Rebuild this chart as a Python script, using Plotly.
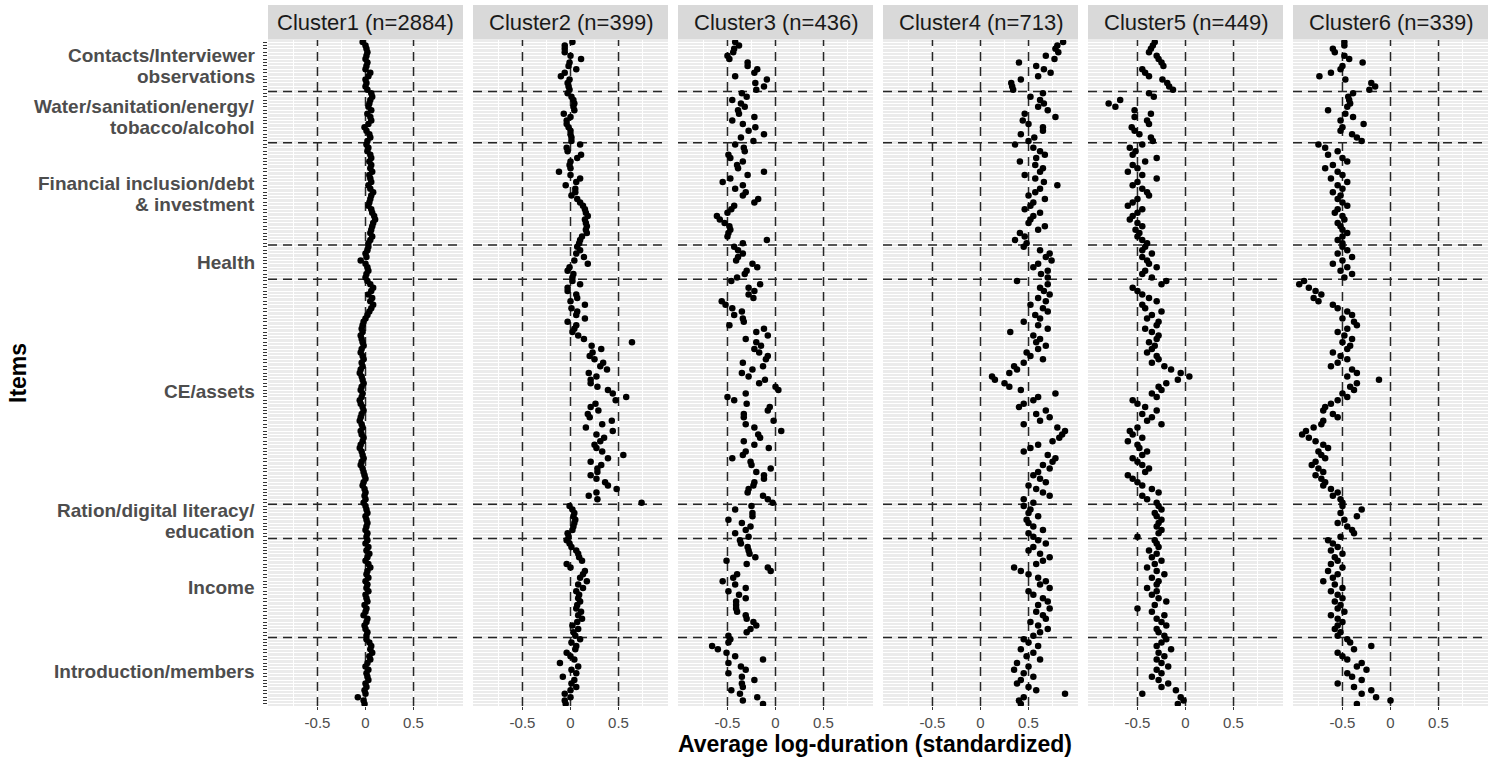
import plotly.graph_objects as go

W, H = 1489, 761

# ---------------- data ----------------
group_labels = [
    ["Contacts/Interviewer", "observations"],
    ["Water/sanitation/energy/", "tobacco/alcohol"],
    ["Financial inclusion/debt", "& investment"],
    ["Health"],
    ["CE/assets"],
    ["Ration/digital literacy/", "education"],
    ["Income"],
    ["Introduction/members"],
]
group_sizes = [15, 15, 30, 10, 66, 10, 29, 20]  # top to bottom

cluster_titles = ["Cluster1 (n=2884)", "Cluster2 (n=399)", "Cluster3 (n=436)",
                  "Cluster4 (n=713)", "Cluster5 (n=449)", "Cluster6 (n=339)"]

x_tick_vals = [-0.5, 0, 0.5]
x_tick_text = ["-0.5", "0", "0.5"]

# values per group, items listed top to bottom
cluster1 = [
    [-0.03, 0.0, 0.01, 0.02, 0.01, 0.0, 0.02, 0.01, 0.0, 0.05, 0.03, 0.0, 0.01, 0.0, 0.02],
    [0.06, 0.07, 0.05, 0.04, 0.03, 0.06, 0.02, 0.05, 0.06, 0.03, -0.01, 0.01, 0.04, 0.05, 0.02],
    [0.01, 0.03, 0.02, 0.05, 0.06, 0.04, 0.06, 0.05, 0.07, 0.04, 0.05, 0.06, 0.03, 0.05, 0.08,
     0.06, 0.05, 0.04, 0.03, 0.06, 0.07, 0.09, 0.1, 0.08, 0.07, 0.06, 0.05, 0.07, 0.05, 0.03],
    [0.03, 0.02, 0.0, 0.01, -0.05, 0.0, 0.02, 0.03, 0.01, 0.0],
    [0.02, 0.05, 0.08, 0.06, 0.03, 0.07, 0.05, 0.08, 0.06, 0.04, 0.02, 0.0,
     -0.02, -0.03, -0.04, -0.03, -0.05, -0.04, -0.03, -0.02, -0.04, -0.05,
     -0.03, -0.02, -0.04, -0.03, -0.05, -0.06, -0.04, -0.03, -0.02, -0.04,
     -0.05, -0.03, -0.04, -0.06, -0.05, -0.03, -0.02, -0.04, -0.05, -0.06,
     -0.04, -0.03, -0.05, -0.04, -0.02, -0.03, -0.05, -0.06, -0.04, -0.03,
     -0.02, -0.04, -0.05, -0.03, -0.02, -0.01, 0.0, -0.02, -0.03, -0.01,
     0.0, -0.01, 0.0, -0.02],
    [0.0, 0.01, 0.02, 0.0, 0.01, 0.02, 0.01, 0.0, 0.02, 0.01],
    [0.02, 0.0, 0.03, 0.01, 0.04, 0.02, 0.0, 0.03, 0.05, 0.02, 0.01, 0.03, 0.0, 0.02, 0.01,
     0.03, 0.0, 0.01, 0.02, -0.01, 0.01, 0.0, -0.02, 0.02, 0.01, -0.01, 0.0, 0.02, 0.01],
    [0.01, 0.04, 0.06, 0.05, 0.07, 0.04, 0.05, 0.02, 0.0, 0.03, 0.01, 0.02, 0.03, 0.0, 0.01,
     -0.01, 0.0, -0.08, -0.02, -0.01],
]
cluster2 = [
    [0.02, -0.06, -0.06, -0.06, 0.0, 0.11, -0.01, -0.02, 0.06, -0.06, -0.1, -0.01, -0.03, -0.02, -0.01],
    [-0.03, 0.01, 0.03, 0.04, 0.03, 0.04, -0.07, 0.0, -0.04, -0.04, -0.02, 0.0, 0.0, 0.01, 0.01],
    [0.1, -0.04, -0.03, 0.11, 0.07, 0.0, -0.01, 0.0, -0.12, 0.0, 0.1, 0.06, -0.05, 0.05, 0.05,
     0.01, 0.07, 0.1, 0.13, 0.15, 0.16, 0.18, 0.15, 0.16, 0.17, 0.16, 0.17, 0.12, 0.1, 0.09],
    [0.07, 0.1, 0.06, 0.14, 0.04, 0.18, -0.01, -0.03, 0.03, 0.02],
    [0.02, 0.10, -0.03, -0.03, 0.06, 0.07, 0.0, 0.15, 0.01, 0.07,
     0.06, 0.15, -0.03, 0.06, 0.04, 0.02, 0.08, 0.14, 0.64, 0.22,
     0.32, 0.23, 0.2, 0.25, 0.34, 0.31, 0.38, 0.19, 0.27, 0.21,
     0.21, 0.28, 0.39, 0.44, 0.58, 0.47, 0.26, 0.21, 0.29, 0.18,
     0.2, 0.43, 0.33, 0.16, 0.44, 0.27, 0.35, 0.31, 0.25, 0.27,
     0.33, 0.55, 0.39, 0.21, 0.32, 0.28, 0.28, 0.21, 0.27, 0.36,
     0.39, 0.48, 0.27, 0.19, 0.28, 0.74],
    [-0.01, 0.02, 0.04, 0.03, 0.05, 0.04, 0.03, 0.02, -0.03, -0.02],
    [-0.04, -0.01, 0.01, 0.06, 0.08, 0.09, 0.12, -0.04, 0.0, 0.15, 0.13, 0.1, 0.17, 0.08, 0.13,
     0.06, 0.09, 0.08, 0.1, 0.07, 0.06, 0.11, 0.08, 0.12, 0.07, 0.02, 0.08, 0.03, 0.05],
    [0.1, 0.01, 0.06, 0.05, -0.04, 0.0, 0.04, -0.11, 0.08, 0.01, 0.06, -0.08, 0.04, 0.01, 0.06,
     0.0, -0.06, 0.0, -0.06, -0.05],
]
cluster3 = [
    [-0.42, -0.38, -0.43, -0.44, -0.5, -0.48, -0.29, -0.29, -0.19, -0.22, -0.42, -0.09, -0.21, -0.12, -0.2],
    [-0.35, -0.3, -0.45, -0.36, -0.32, -0.39, -0.38, -0.22, -0.45, -0.34, -0.21, -0.28, -0.12, -0.36, -0.23],
    [-0.42, -0.33, -0.32, -0.49, -0.47, -0.34, -0.4, -0.39, -0.12, -0.29, -0.47, -0.55, -0.34, -0.42, -0.31,
     -0.34, -0.18, -0.22, -0.43, -0.46, -0.5, -0.61, -0.58, -0.53, -0.48, -0.47, -0.49, -0.5, -0.09, -0.34],
    [-0.43, -0.39, -0.34, -0.39, -0.41, -0.24, -0.19, -0.3, -0.32, -0.4],
    [-0.46, -0.16, -0.28, -0.22, -0.28, -0.23, -0.56, -0.52, -0.45, -0.35,
     -0.43, -0.34, -0.33, -0.48, -0.12, -0.2, -0.08, -0.31, -0.2, -0.15,
     -0.22, -0.17, -0.08, -0.1, -0.34, -0.13, -0.24, -0.35, -0.28, -0.11,
     -0.17, 0.0, 0.03, -0.31, -0.5, -0.43, -0.3, -0.06, -0.08, -0.33,
     -0.33, -0.02, -0.31, -0.22, 0.06, -0.18, -0.16, -0.33, -0.22, -0.07,
     -0.31, -0.34, -0.45, -0.26, -0.25, -0.05, -0.2, -0.12, -0.12, -0.22,
     -0.23, -0.28, -0.29, -0.13, -0.08, -0.03],
    [-0.25, -0.42, -0.24, -0.24, -0.49, -0.35, -0.26, -0.31, -0.42, -0.28],
    [-0.37, -0.36, -0.29, -0.28, -0.27, -0.21, -0.51, -0.3, -0.08, -0.05, -0.4, -0.44, -0.55, -0.42, -0.31,
     -0.49, -0.38, -0.31, -0.41, -0.41, -0.41, -0.4, -0.31, -0.3, -0.23, -0.2, -0.26, -0.3, -0.49],
    [-0.47, -0.49, -0.66, -0.6, -0.51, -0.42, -0.13, -0.49, -0.36, -0.31, -0.49, -0.35, -0.22, -0.35, -0.34,
     -0.46, -0.37, -0.19, -0.34, -0.13],
]
cluster4 = [
    [0.86, 0.8, 0.78, 0.81, 0.68, 0.77, 0.4, 0.58, 0.66, 0.73, 0.6, 0.42, 0.32, 0.33, 0.34],
    [0.65, 0.52, 0.62, 0.66, 0.6, 0.7, 0.46, 0.78, 0.44, 0.5, 0.65, 0.65, 0.42, 0.56, 0.5],
    [0.36, 0.55, 0.62, 0.67, 0.58, 0.41, 0.57, 0.65, 0.62, 0.46, 0.57, 0.66, 0.8, 0.62, 0.57,
     0.5, 0.67, 0.55, 0.52, 0.46, 0.62, 0.55, 0.52, 0.5, 0.67, 0.6, 0.41, 0.46, 0.36, 0.48],
    [0.45, 0.62, 0.72, 0.68, 0.74, 0.6, 0.55, 0.7, 0.63, 0.7],
    [0.38, 0.7, 0.62, 0.66, 0.72, 0.6, 0.68, 0.52, 0.65, 0.7,
     0.57, 0.62, 0.45, 0.6, 0.7, 0.31, 0.55, 0.62, 0.58, 0.68,
     0.6, 0.48, 0.52, 0.65, 0.45, 0.35, 0.38, 0.3, 0.12, 0.15,
     0.25, 0.3, 0.42, 0.78, 0.6, 0.55, 0.45, 0.4, 0.68, 0.58,
     0.72, 0.62, 0.45, 0.8, 0.88, 0.85, 0.82, 0.75, 0.6, 0.52,
     0.45, 0.7, 0.78, 0.75, 0.65, 0.72, 0.6, 0.55, 0.62, 0.68,
     0.5, 0.58, 0.65, 0.72, 0.45, 0.55],
    [0.45, 0.52, 0.5, 0.6, 0.48, 0.5, 0.55, 0.65, 0.5, 0.55],
    [0.6, 0.68, 0.55, 0.5, 0.62, 0.72, 0.65, 0.58, 0.35, 0.42, 0.5, 0.6, 0.68, 0.62, 0.72,
     0.5, 0.55, 0.65, 0.7, 0.6, 0.72, 0.58, 0.65, 0.68, 0.52, 0.6, 0.7, 0.62, 0.55],
    [0.45, 0.5, 0.6, 0.42, 0.55, 0.48, 0.62, 0.38, 0.5, 0.35, 0.45, 0.55, 0.42, 0.38, 0.5,
     0.58, 0.88, 0.45, 0.4, 0.42],
]
cluster5 = [
    [-0.32, -0.34, -0.36, -0.38, -0.3, -0.28, -0.25, -0.23, -0.45, -0.42, -0.38, -0.24, -0.19, -0.17, -0.13],
    [-0.38, -0.33, -0.68, -0.8, -0.73, -0.53, -0.36, -0.53, -0.4, -0.38, -0.56, -0.53, -0.48, -0.36, -0.34],
    [-0.45, -0.58, -0.52, -0.55, -0.3, -0.42, -0.55, -0.5, -0.6, -0.45, -0.3, -0.5, -0.55, -0.45, -0.4,
     -0.38, -0.5, -0.55, -0.6, -0.45, -0.5, -0.55, -0.58, -0.5, -0.45, -0.52, -0.48, -0.5, -0.45, -0.4],
    [-0.42, -0.45, -0.35, -0.45, -0.4, -0.38, -0.3, -0.42, -0.45, -0.35],
    [-0.2, -0.25, -0.55, -0.5, -0.45, -0.38, -0.3, -0.45, -0.42, -0.25,
     -0.35, -0.4, -0.28, -0.3, -0.42, -0.35, -0.28, -0.3, -0.38, -0.32,
     -0.35, -0.4, -0.3, -0.28, -0.35, -0.22, -0.15, -0.05, 0.04, -0.08,
     -0.2, -0.28, -0.25, -0.35, -0.3, -0.55, -0.5, -0.42, -0.3, -0.45,
     -0.35, -0.4, -0.25, -0.5, -0.58, -0.55, -0.45, -0.6, -0.5, -0.48,
     -0.4, -0.45, -0.55, -0.5, -0.45, -0.38, -0.42, -0.6, -0.55, -0.5,
     -0.45, -0.35, -0.28, -0.45, -0.4, -0.3],
    [-0.28, -0.25, -0.32, -0.3, -0.25, -0.28, -0.3, -0.25, -0.28, -0.5],
    [-0.32, -0.3, -0.28, -0.38, -0.3, -0.35, -0.25, -0.32, -0.4, -0.3, -0.22, -0.35, -0.28, -0.3, -0.4,
     -0.3, -0.35, -0.28, -0.2, -0.32, -0.5, -0.35, -0.22, -0.3, -0.25, -0.2, -0.3, -0.28, -0.22],
    [-0.2, -0.25, -0.3, -0.15, -0.28, -0.22, -0.3, -0.25, -0.18, -0.3, -0.25, -0.35, -0.28, -0.18, -0.25,
     -0.1, -0.45, -0.05, -0.02, -0.08],
]
cluster6 = [
    [-0.48, -0.48, -0.6, -0.58, -0.48, -0.43, -0.29, -0.5, -0.52, -0.62, -0.74, -0.47, -0.2, -0.16, -0.22],
    [-0.39, -0.44, -0.43, -0.42, -0.45, -0.65, -0.47, -0.39, -0.52, -0.28, -0.5, -0.52, -0.4, -0.35, -0.3],
    [-0.75, -0.68, -0.55, -0.65, -0.5, -0.45, -0.6, -0.68, -0.55, -0.5, -0.62, -0.45, -0.55, -0.5, -0.6,
     -0.52, -0.55, -0.5, -0.45, -0.55, -0.58, -0.5, -0.48, -0.55, -0.52, -0.5, -0.45, -0.5, -0.55, -0.5],
    [-0.5, -0.45, -0.55, -0.4, -0.5, -0.6, -0.45, -0.52, -0.4, -0.48],
    [-0.9, -0.95, -0.85, -0.78, -0.72, -0.8, -0.75, -0.6, -0.55, -0.45,
     -0.4, -0.5, -0.38, -0.35, -0.45, -0.55, -0.48, -0.4, -0.5, -0.42,
     -0.45, -0.6, -0.52, -0.45, -0.55, -0.62, -0.4, -0.35, -0.45, -0.12,
     -0.35, -0.42, -0.38, -0.5, -0.45, -0.55, -0.62, -0.68, -0.7, -0.6,
     -0.55, -0.7, -0.72, -0.8, -0.88, -0.92, -0.85, -0.78, -0.7, -0.65,
     -0.75, -0.72, -0.68, -0.78, -0.82, -0.75, -0.7, -0.78, -0.72, -0.68,
     -0.7, -0.62, -0.55, -0.6, -0.52, -0.5],
    [-0.5, -0.3, -0.52, -0.35, -0.48, -0.55, -0.45, -0.4, -0.38, -0.52],
    [-0.65, -0.6, -0.55, -0.62, -0.5, -0.58, -0.55, -0.62, -0.5, -0.65, -0.55, -0.6, -0.7, -0.58, -0.5,
     -0.62, -0.55, -0.5, -0.58, -0.52, -0.55, -0.48, -0.62, -0.55, -0.5, -0.55, -0.58, -0.52, -0.55],
    [-0.45, -0.42, -0.2, -0.38, -0.55, -0.5, -0.45, -0.3, -0.35, -0.25, -0.45, -0.4, -0.3, -0.55, -0.38,
     -0.2, -0.3, -0.15, 0.0, -0.35],
]
clusters = [cluster1, cluster2, cluster3, cluster4, cluster5, cluster6]

for ci, cl in enumerate(clusters):
    for gi, g in enumerate(cl):
        assert len(g) == group_sizes[gi], (ci + 1, gi, len(g))

# ---------------- layout helpers ----------------
n_items = sum(group_sizes)
item_y = list(range(n_items, 0, -1))  # top item has the largest y

def fx(px):
    return px / W

def fy(py):
    return 1 - py / H

panel_top, panel_bot = 40, 706
panel_w = 195
panel_lefts = [268 + 205 * k for k in range(6)]
xr = [-1.015, 1.015]
yr = [0.4, n_items + 0.6]

fig = go.Figure()
shapes = []
annotations = []

# group boundary positions and centres
bounds = []
centres = []
cum = 0
for s in group_sizes:
    top_y = n_items - cum
    bot_y = n_items - cum - s + 1
    centres.append((top_y + bot_y) / 2)
    cum += s
    if cum < n_items:
        bounds.append(n_items - cum + 0.5)

dash_line = dict(color="#262626", width=1.5, dash="9px,6px")

# dashed reference lines expressed as line traces (above the grid, below the dots)
hx, hy = [], []
for b in bounds:
    hx += [xr[0], xr[1], None]
    hy += [b, b, None]
vx, vy = [], []
for v in x_tick_vals:
    vx += [v, v, None]
    vy += [yr[0], yr[1], None]

for k in range(6):
    sfx = "" if k == 0 else str(k + 1)
    fig.add_trace(go.Scatter(x=hx, y=hy, mode="lines", line=dash_line,
                             xaxis="x" + sfx, yaxis="y" + sfx, showlegend=False,
                             hoverinfo="skip"))
    fig.add_trace(go.Scatter(x=vx, y=vy, mode="lines", line=dash_line,
                             xaxis="x" + sfx, yaxis="y" + sfx, showlegend=False,
                             hoverinfo="skip"))
    vals = [v for g in clusters[k] for v in g]
    fig.add_trace(go.Scatter(
        x=vals, y=item_y, mode="markers",
        marker=dict(color="black", size=6.5, line=dict(width=0)),
        xaxis="x" + sfx, yaxis="y" + sfx, showlegend=False, hoverinfo="skip"))

    left = panel_lefts[k]
    fig.layout["xaxis" + sfx] = dict(
        domain=[fx(left), fx(left + panel_w)], anchor="y" + sfx, range=xr,
        tickvals=x_tick_vals, ticktext=x_tick_text, ticks="outside", ticklen=3,
        tickcolor="#333333", tickwidth=1,
        tickfont=dict(family="Liberation Sans, Arial", size=15, color="#4D4D4D"),
        showgrid=True, gridcolor="white", gridwidth=1.1, zeroline=False, showline=False,
        minor=dict(tickvals=[-0.75, -0.25, 0.25, 0.75], showgrid=True,
                   gridcolor="white", gridwidth=0.6, ticks=""),
    )
    yax = dict(
        domain=[fy(panel_bot), fy(panel_top)], anchor="x" + sfx,
        range=yr, tickvals=list(range(1, n_items + 1)),
        showticklabels=False, showgrid=True, gridcolor="white", gridwidth=1,
        zeroline=False, showline=False,
    )
    if k == 0:
        yax.update(ticks="outside", ticklen=4, tickcolor="#333333", tickwidth=1)
    else:
        yax.update(ticks="", matches="y")
    fig.layout["yaxis" + sfx] = yax

    # strip
    shapes.append(dict(type="rect", xref="paper", yref="paper",
                       x0=fx(left), x1=fx(left + panel_w), y0=fy(39.5), y1=fy(5),
                       fillcolor="#D9D9D9", line=dict(width=0)))
    annotations.append(dict(xref="paper", yref="paper", x=fx(left + panel_w / 2), y=fy(22.5),
                            text=cluster_titles[k], showarrow=False, xanchor="center",
                            yanchor="middle",
                            font=dict(family="Liberation Sans, Arial", size=22, color="#1A1A1A")))

# group labels on the left
line_gap = 6.2  # in item units
for lines, c in zip(group_labels, centres):
    n = len(lines)
    for li, t in enumerate(lines):
        yy = c + (n - 1) / 2 * line_gap - li * line_gap
        annotations.append(dict(xref="paper", yref="y", x=fx(257), y=yy, text=t,
                                showarrow=False, xanchor="right", yanchor="middle",
                                align="right",
                                font=dict(family="Liberation Sans, Arial", size=19,
                                          color="#4D4D4D", weight="bold")))

# axis titles
annotations.append(dict(xref="paper", yref="paper", x=fx(875), y=fy(744),
                        text="Average log-duration (standardized)", showarrow=False,
                        xanchor="center", yanchor="middle",
                        font=dict(family="Liberation Sans, Arial", size=23, color="black",
                                  weight="bold")))
annotations.append(dict(xref="paper", yref="paper", x=fx(18), y=fy(373), text="Items",
                        showarrow=False, textangle=-90, xanchor="center", yanchor="middle",
                        font=dict(family="Liberation Sans, Arial", size=23, color="black",
                                  weight="bold")))

fig.update_layout(
    width=W, height=H, margin=dict(l=0, r=0, t=0, b=0),
    paper_bgcolor="white", plot_bgcolor="#EBEBEB",
    shapes=shapes, annotations=annotations, showlegend=False,
    font=dict(family="Liberation Sans, Arial"),
)

fig.write_html("out.html")
